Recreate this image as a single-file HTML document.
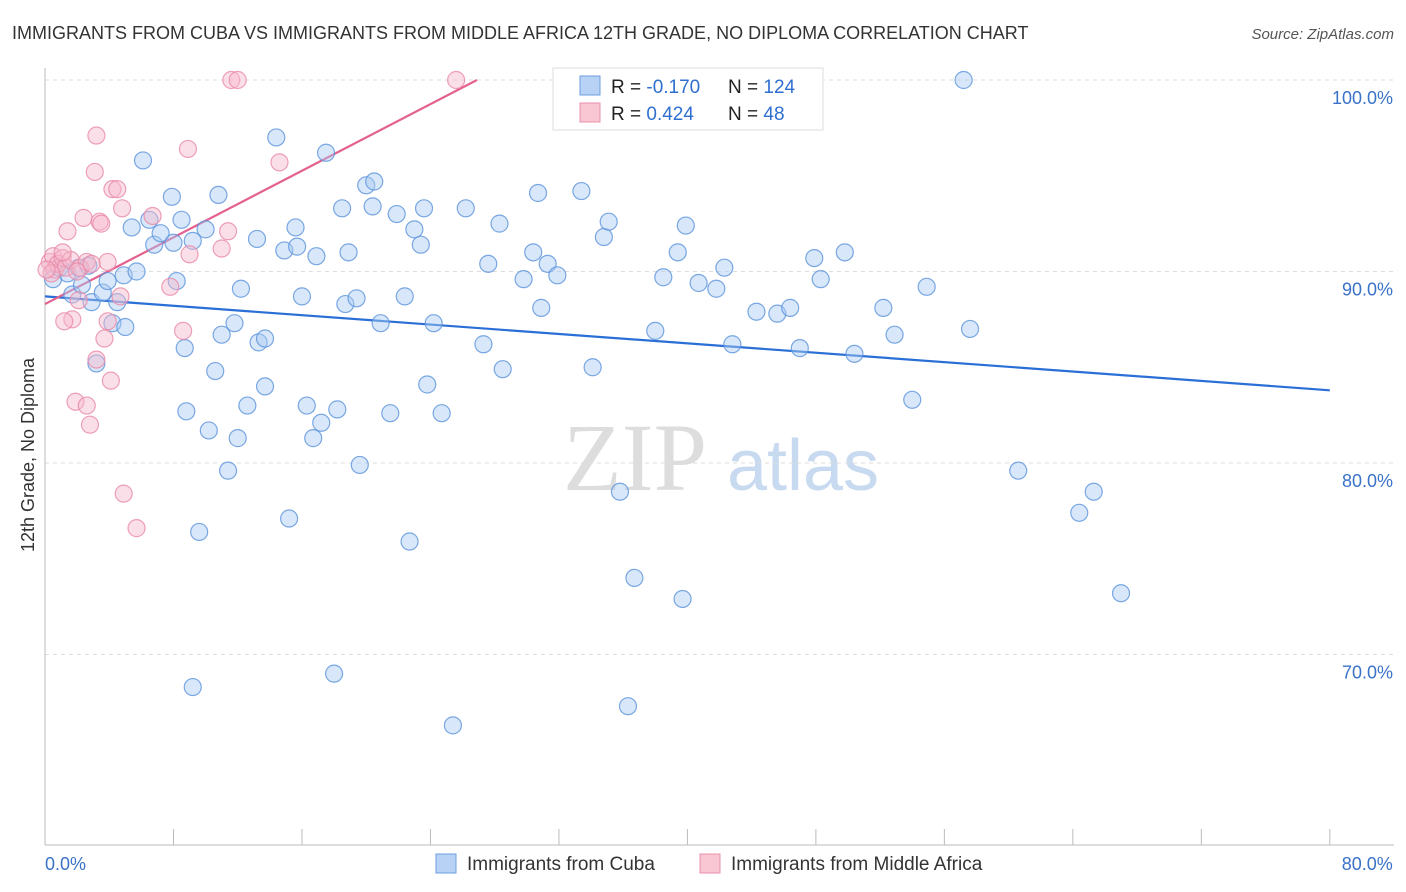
<!DOCTYPE html>
<html><head><meta charset="utf-8"><style>
body{margin:0;background:#fff;font-family:"Liberation Sans",sans-serif;}
svg{display:block}
</style></head><body>
<svg id="chart" width="1406" height="892" xmlns="http://www.w3.org/2000/svg">
<text x="12" y="39" font-size="18" fill="#333">IMMIGRANTS FROM CUBA VS IMMIGRANTS FROM MIDDLE AFRICA 12TH GRADE, NO DIPLOMA CORRELATION CHART</text>
<text x="1394" y="39" font-size="15" fill="#555" font-style="italic" text-anchor="end">Source: ZipAtlas.com</text>
<text transform="translate(34,455) rotate(-90)" font-size="18" fill="#333" text-anchor="middle">12th Grade, No Diploma</text>
<g><text x="635" y="490" font-size="96" font-family="Liberation Serif,serif" fill="#ddd" text-anchor="middle">ZIP</text><text x="803" y="490" font-size="72" fill="#c8daf0" text-anchor="middle">atlas</text></g>
<g id="grid"></g><g id="axes"></g><g id="trend"></g><g id="pts"></g>
<g>
<rect x="553" y="68" width="270" height="62" fill="#fff" stroke="#ddd"/>
<rect x="580" y="76" width="20" height="19" fill="#b7d2f5" stroke="#6c9de0"/>
<rect x="580" y="103" width="20" height="19" fill="#f9c6d4" stroke="#e890aa"/>
<text x="611" y="93" font-size="19" fill="#222">R = <tspan fill="#2f6fd0">-0.170</tspan></text>
<text x="728" y="93" font-size="19" fill="#222">N = <tspan fill="#2f6fd0">124</tspan></text>
<text x="611" y="120" font-size="19" fill="#222">R = <tspan fill="#2f6fd0"> 0.424</tspan></text>
<text x="728" y="120" font-size="19" fill="#222">N = <tspan fill="#2f6fd0">  48</tspan></text>
</g>
<g>
<rect x="436" y="854" width="20" height="19" fill="#b7d2f5" stroke="#6c9de0"/>
<text x="467" y="870" font-size="19" fill="#333">Immigrants from Cuba</text>
<rect x="700" y="854" width="20" height="19" fill="#f9c6d4" stroke="#e890aa"/>
<text x="731" y="870" font-size="19" fill="#333">Immigrants from Middle Africa</text>
</g>
</svg>
<script>
const yTicks=[100,90,80,70];
const yTickLabels=["100.0%","90.0%","80.0%","70.0%"];
const xTickLabels=["0.0%","80.0%"];
const cubaX=[0.5,0.9,1.4,1.7,2.1,2.3,2.7,2.9,3.2,3.6,3.9,4.2,4.5,5.0,4.9,5.7,5.4,6.1,6.5,6.8,7.2,7.9,8.0,8.5,8.7,8.8,8.2,9.2,9.2,9.6,10.0,10.2,10.6,10.8,11.0,11.4,11.8,12.0,12.2,12.6,13.2,13.3,13.7,13.7,14.4,14.9,15.2,15.7,15.6,16.0,16.3,16.7,16.9,17.2,17.5,18.0,18.2,18.5,18.7,18.9,19.4,19.6,20.0,20.4,20.5,20.9,21.5,21.9,22.7,22.4,23.0,23.4,23.6,23.8,24.2,24.7,25.4,26.2,27.3,27.6,28.3,28.5,29.8,30.4,30.7,30.9,31.3,31.9,33.4,34.1,34.8,35.1,35.8,36.3,36.7,38.0,38.5,39.4,39.7,39.9,40.7,41.8,42.3,42.8,44.3,45.6,46.4,47.0,47.9,48.3,49.8,50.4,52.2,52.9,54.0,54.9,57.2,57.6,60.6,64.4,65.3,67.0];
const cubaY=[89.6,90.2,89.9,88.8,90.2,89.3,90.3,88.4,85.2,88.9,89.5,87.3,88.4,87.1,89.8,90.0,92.3,95.8,92.7,91.4,92.0,93.9,91.5,92.7,86.0,82.7,89.5,91.6,68.3,76.4,92.2,81.7,84.8,94.0,86.7,79.6,87.3,81.3,89.1,83.0,91.7,86.3,86.5,84.0,97.0,91.1,77.1,91.3,92.3,88.7,83.0,81.3,90.8,82.1,96.2,69.0,82.8,93.3,88.3,91.0,88.6,79.9,94.5,93.4,94.7,87.3,82.6,93.0,75.9,88.7,92.2,91.4,93.3,84.1,87.3,82.6,66.3,93.3,86.2,90.4,92.5,84.9,89.6,91.0,94.1,88.1,90.4,89.8,94.2,85.0,91.8,92.6,78.5,67.3,74.0,86.9,89.7,91.0,72.9,92.4,89.4,89.1,90.2,86.2,87.9,87.8,88.1,86.0,90.7,89.6,91.0,85.7,88.1,86.7,83.3,89.2,100.0,87.0,79.6,77.4,78.5,73.2];
const africaX=[0.3,0.5,0.6,0.8,1.1,1.3,1.6,1.1,0.4,1.4,1.7,1.2,1.9,2.1,2.2,2.4,2.6,2.8,3.1,3.2,3.2,3.4,3.5,3.7,3.9,3.9,4.1,4.2,4.5,4.7,4.8,4.9,5.7,6.7,7.8,8.6,8.9,9.0,11.0,11.4,11.6,12.0,14.6,25.6,2.6,2.0,0.1,2.9];
const africaY=[90.5,90.8,90.1,90.4,90.7,90.2,90.6,91.0,89.9,92.1,87.5,87.4,83.2,88.5,90.2,92.8,83.0,82.0,95.2,97.1,85.4,92.6,92.5,86.5,87.4,90.5,84.3,94.3,94.3,88.7,93.3,78.4,76.6,92.9,89.2,86.9,96.4,90.9,91.2,92.1,100,100,95.7,100,90.5,90.0,90.1,90.4];
const cubaTrend=[88.7,-0.0613];   // intercept, slope
const africaTrend=[88.3,0.435];

const NS="http://www.w3.org/2000/svg";
const X=v=>45+v*16.06;
const Y=v=>80+(100-v)*19.15;
function mk(tag,parent,attrs){const e=document.createElementNS(NS,tag);for(const k in attrs)e.setAttribute(k,attrs[k]);parent.appendChild(e);return e;}
const grid=document.getElementById('grid'),axes=document.getElementById('axes'),trend=document.getElementById('trend'),pts=document.getElementById('pts');
yTicks.forEach((t,i)=>{
  const l=mk('line',grid,{x1:45,x2:1394,y1:Y(t),y2:Y(t),stroke:'#ddd','stroke-dasharray':'4,4'});
  
  
  const tx=mk('text',axes,{x:1393,y:Y(t)+24,'font-size':18,fill:'#3a72c8','text-anchor':'end'});
  tx.textContent=yTickLabels[i];
  
  
});
const ya=mk('line',axes,{x1:45,x2:45,y1:68,y2:845,stroke:'#bbb'});


const xa=mk('line',axes,{x1:45,x2:1394,y1:845,y2:845,stroke:'#bbb'});


for(let v=0;v<=80;v+=8){
  const tk=mk('line',axes,{x1:X(v),x2:X(v),y1:829,y2:845,stroke:'#bbb'});
  
  
}
[[0,'start'],[80,'end']].forEach((p,i)=>{
  const tx=mk('text',axes,{x:X(p[0])+(i?63:0),y:870,'font-size':18,fill:'#3a72c8','text-anchor':p[1]});
  tx.textContent=xTickLabels[i];
  
  
});
function drawPts(xs,ys,fill,stroke,name){
  xs.forEach((x,i)=>{
    const c=mk('circle',pts,{cx:X(x),cy:Y(ys[i]),r:8.5,fill:fill,'fill-opacity':0.45,stroke:stroke,'stroke-width':1.2,'stroke-opacity':0.8});
    
    
  });
}
drawPts(cubaX,cubaY,'#a9c9f2','#5b93dc','point-cuba');
drawPts(africaX,africaY,'#f6b9cb','#e88aa7','point-middle-africa');
const bl=mk('line',trend,{x1:X(0),y1:Y(cubaTrend[0]),x2:X(80),y2:Y(cubaTrend[0]+80*cubaTrend[1]),stroke:'#2a6fd6','stroke-width':2.2});


const xe=(100-africaTrend[0])/africaTrend[1];
const pl=mk('line',trend,{x1:X(0),y1:Y(africaTrend[0]),x2:X(xe),y2:Y(100),stroke:'#e4618f','stroke-width':2.2});


</script>
</body></html>
